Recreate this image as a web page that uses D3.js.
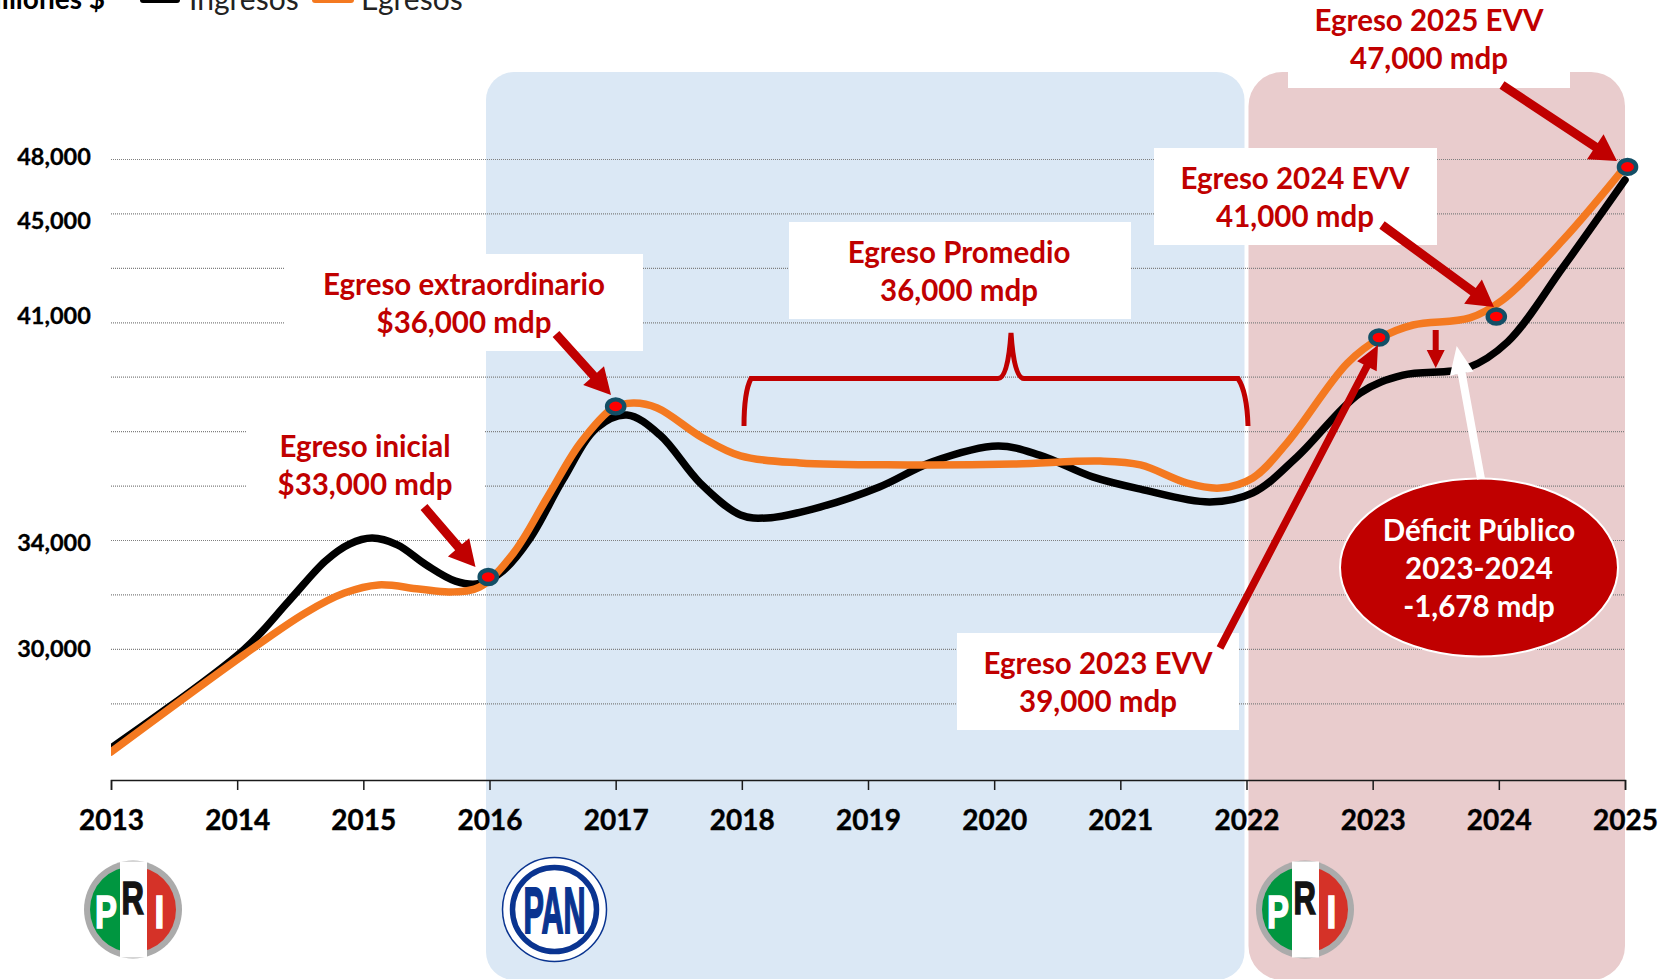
<!DOCTYPE html>
<html>
<head>
<meta charset="utf-8">
<script src="https://cdnjs.cloudflare.com/ajax/libs/d3/7.8.5/d3.min.js"></script>
<style>
  html, body { margin: 0; padding: 0; background: #fff; overflow: hidden; }
  svg { display: block; }
  text { font-family: Lato, "Noto Sans", sans-serif; }
</style>
</head>
<body>
<div id="chart"></div>
<script>
"use strict";

const yearTicks = [2013, 2014, 2015, 2016, 2017, 2018, 2019, 2020, 2021, 2022, 2023, 2024, 2025];
const gridValues = [48000, 46000, 44000, 42000, 40000, 38000, 36000, 34000, 32000, 30000, 28000];

// the printed labels do not sit on a linear scale, so each one keeps where it was placed
const yLabels = ["48,000", "45,000", "41,000", "34,000", "30,000"];
const yLabelAt = [48100, 45730, 42250, 33900, 30000];

const ingresosYears = [2013, 2014.05, 2014.41, 2014.7, 2014.89, 2015.07, 2015.27, 2015.5, 2015.73, 2015.92, 2016.11,
  2016.32, 2016.58, 2016.85, 2017.09, 2017.35, 2017.67, 2017.99, 2018.2, 2018.62, 2019.09, 2019.51, 2020.03,
  2020.36, 2020.78, 2021.16, 2021.71, 2022.05, 2022.4, 2022.9, 2023.24, 2023.75, 2024.07, 2024.51, 2025];
const ingresosValues = [26356, 29960, 31760, 33230, 33850, 34070, 33820, 33080, 32490, 32400, 32880,
  34050, 36200, 38120, 38590, 37860, 36090, 34920, 34810, 35210, 35950, 36870, 37450,
  37120, 36320, 35870, 35400, 35730, 37050, 39400, 40060, 40320, 41280, 44030, 47230];

const egresosYears = [2013, 2014.05, 2014.54, 2014.85, 2015.12, 2015.44, 2015.69, 2015.92, 2016.19, 2016.46,
  2016.72, 2016.98, 2017.14, 2017.33, 2017.69, 2017.99, 2018.46, 2019.31, 2020.15, 2020.84, 2021.16, 2021.53,
  2021.79, 2022.05, 2022.32, 2022.8, 2023.06, 2023.32, 2023.77, 2024.03, 2024.51, 2025];
const egresosValues = [26210, 29770, 31320, 32050, 32350, 32200, 32090, 32270, 33520, 35580,
  37560, 38850, 39030, 38850, 37750, 37090, 36830, 36760, 36790, 36900, 36760, 36090,
  35910, 36280, 37560, 40500, 41420, 41900, 42160, 42820, 45030, 47710];

const markerYears = [2015.99, 2017, 2023.05, 2023.98, 2025.02];
const markerValues = [32640, 38910, 41440, 42210, 47710];

const RED = "#C00000";
const W = 1660, H = 979;

const svg = d3.select("#chart").append("svg").attr("width", W).attr("height", H);

const x = d3.scaleLinear().domain([2013, 2025]).range([111, 1625]);
const y = d3.scaleLinear().domain([34000, 48000]).range([540, 159]);
const axisY = 780;

// party periods
svg.append("rect").attr("x", x(2016) - 3.5).attr("y", 72).attr("width", x(2022) - x(2016) + 1.5)
  .attr("height", 908).attr("rx", 28).attr("fill", "#DBE8F5");
svg.append("rect").attr("x", x(2022) + 2).attr("y", 72).attr("width", x(2025) - x(2022) - 2)
  .attr("height", 908).attr("rx", 34).attr("fill", "#E9CCCD");

// gridlines
const yAxis = svg.append("g")
  .attr("transform", `translate(${x(2013)},0)`)
  .call(d3.axisLeft(y).tickValues(gridValues).tickFormat("").tickSize(-(x(2025) - x(2013))).tickSizeOuter(0));
yAxis.select(".domain").remove();
yAxis.selectAll("line").attr("stroke", "#7f7f7f").attr("stroke-width", 1.2).attr("stroke-dasharray", "1 1");

// x axis
const xAxis = svg.append("g")
  .attr("transform", `translate(0,${axisY})`)
  .call(d3.axisBottom(x).tickValues(yearTicks).tickFormat(d3.format("d")).tickSize(10).tickPadding(20));
xAxis.selectAll("path,line").attr("stroke", "#1a1a1a").attr("stroke-width", 1.5);
xAxis.selectAll("text").attr("fill", "#000").attr("font-size", 28).attr("font-weight", 700)
  .attr("stroke", "#000").attr("stroke-width", 0.4)
  .style("font-family", "Lato");

// y labels
svg.selectAll(".ylab").data(yLabels).enter().append("text")
  .attr("x", 54).attr("y", (d, i) => y(yLabelAt[i]))
  .attr("dy", "0.35em").attr("text-anchor", "middle")
  .attr("font-size", 23.5).attr("font-weight", 700).attr("fill", "#000")
  .attr("stroke", "#000").attr("stroke-width", 0.3)
  .text(d => d);

// white label backgrounds, these hide the gridlines
const boxes = [
  [284, 254, 359, 97], [247, 395, 237, 110], [789, 222, 342, 97],
  [1154, 148, 283, 97], [1288, 0, 282, 88], [957, 633, 282, 97]
];
svg.selectAll(".box").data(boxes).enter().append("rect")
  .attr("x", d => d[0]).attr("y", d => d[1]).attr("width", d => d[2]).attr("height", d => d[3])
  .attr("fill", "#fff");

// lines, cut square at the 2013 edge
svg.append("clipPath").attr("id", "plotClip").append("rect")
  .attr("x", x(2013)).attr("y", 0).attr("width", W - x(2013)).attr("height", H);
const line = d3.line().x(d => x(d[0])).y(d => y(d[1])).curve(d3.curveCatmullRom.alpha(0.5));
const lines = svg.append("g").attr("clip-path", "url(#plotClip)");
lines.append("path").attr("d", line(d3.zip(ingresosYears, ingresosValues)))
  .attr("fill", "none").attr("stroke", "#000").attr("stroke-width", 7.5).attr("stroke-linecap", "round");
lines.append("path").attr("d", line(d3.zip(egresosYears, egresosValues)))
  .attr("fill", "none").attr("stroke", "#F47920").attr("stroke-width", 7.5).attr("stroke-linecap", "round");

// markers
svg.selectAll(".marker").data(d3.zip(markerYears, markerValues)).enter().append("ellipse")
  .attr("cx", d => x(d[0])).attr("cy", d => y(d[1])).attr("rx", 8.6).attr("ry", 7)
  .attr("fill", "#FF0000").attr("stroke", "#134F66").attr("stroke-width", 4.4);

// block arrow from tail to tip
function arrow(x1, y1, x2, y2, shaft, headLen, headW, color) {
  const a = Math.atan2(y2 - y1, x2 - x1);
  const len = Math.hypot(x2 - x1, y2 - y1);
  const pts = [[0, -shaft / 2], [len - headLen, -shaft / 2], [len - headLen, -headW / 2], [len, 0],
    [len - headLen, headW / 2], [len - headLen, shaft / 2], [0, shaft / 2]];
  svg.append("polygon")
    .attr("points", pts.map(p => p.join(",")).join(" "))
    .attr("transform", `translate(${x1},${y1}) rotate(${a * 180 / Math.PI})`)
    .attr("fill", color);
}
arrow(424, 507, 475.5, 567, 9, 26, 28, RED);
arrow(556, 334, 611, 395, 9, 26, 28, RED);
arrow(1502, 85, 1617, 161, 9, 26, 30, RED);
arrow(1382, 225, 1494, 307, 9, 26, 30, RED);
arrow(1220, 648, 1378, 345, 7.5, 24, 22, RED);
arrow(1435.7, 330, 1435.7, 368, 6, 18, 18, RED);

// bracket over the PAN years
const br = d3.path();
br.moveTo(744, 426);
br.quadraticCurveTo(744, 392, 751, 378.5);
br.lineTo(998, 378.5);
br.quadraticCurveTo(1008, 378.5, 1011, 333);
br.quadraticCurveTo(1014, 378.5, 1024, 378.5);
br.lineTo(1238, 378.5);
br.quadraticCurveTo(1247, 392, 1248, 426);
svg.append("path").attr("d", br.toString()).attr("fill", "none").attr("stroke", RED).attr("stroke-width", 5);

// deficit bubble
svg.append("ellipse").attr("cx", 1479).attr("cy", 567.5).attr("rx", 139).attr("ry", 89)
  .attr("fill", RED).attr("stroke", "#fff").attr("stroke-width", 2);
arrow(1481, 479, 1456.7, 346, 8, 28, 24, "#fff");

// annotation text
const notes = [
  ["Egreso extraordinario", 464, 285, RED], ["$36,000 mdp", 464, 323, RED],
  ["Egreso inicial", 365, 447, RED], ["$33,000 mdp", 365, 485, RED],
  ["Egreso Promedio", 959, 253, RED], ["36,000 mdp", 959, 291, RED],
  ["Egreso 2024 EVV", 1295, 179, RED], ["41,000 mdp", 1295, 217, RED],
  ["Egreso 2025 EVV", 1429, 21, RED], ["47,000 mdp", 1429, 59, RED],
  ["Egreso 2023 EVV", 1098, 664, RED], ["39,000 mdp", 1098, 702, RED],
  ["Déficit Público", 1479, 531, "#fff"], ["2023-2024", 1479, 569, "#fff"], ["-1,678 mdp", 1479, 607, "#fff"]
];
svg.selectAll(".note").data(notes).enter().append("text")
  .attr("x", d => d[1]).attr("y", d => d[2]).attr("dy", "0.35em").attr("text-anchor", "middle")
  .attr("font-size", 29.5).attr("font-weight", 700).attr("fill", d => d[3])
  .text(d => d[0]);

// legend, it runs off the top of the picture
svg.append("text").attr("x", 105).attr("y", 9).attr("text-anchor", "end")
  .attr("font-size", 28).attr("font-weight", 700).attr("fill", "#000").text("Millones $");
svg.append("line").attr("x1", 143).attr("x2", 177).attr("y1", 0).attr("y2", 0)
  .attr("stroke", "#000").attr("stroke-width", 6).attr("stroke-linecap", "round");
svg.append("text").attr("x", 189).attr("y", 10).attr("font-size", 30).attr("fill", "#222").text("Ingresos");
svg.append("line").attr("x1", 315).attr("x2", 351).attr("y1", 0).attr("y2", 0)
  .attr("stroke", "#F47920").attr("stroke-width", 6).attr("stroke-linecap", "round");
svg.append("text").attr("x", 361).attr("y", 10).attr("font-size", 30).attr("fill", "#222").text("Egresos");

// party logos
function priLogo(cx, cy) {
  const g = svg.append("g").attr("transform", `translate(${cx},${cy})`);
  const clipId = "pri" + cx;
  g.append("clipPath").attr("id", clipId).append("circle").attr("r", 43);
  g.append("circle").attr("r", 49).attr("fill", "#ABABAB");
  const inner = g.append("g").attr("clip-path", `url(#${clipId})`);
  inner.append("rect").attr("x", -43).attr("y", -43).attr("width", 43).attr("height", 86).attr("fill", "#009640");
  inner.append("rect").attr("x", 0).attr("y", -43).attr("width", 43).attr("height", 86).attr("fill", "#D53228");
  g.append("rect").attr("x", -13).attr("y", -48).attr("width", 27).attr("height", 96).attr("fill", "#fff");
  // squeezed with a scale so the letters stay narrow
  const letters = [["P", -38, 18, "#fff", 0.7], ["R", -11.5, 4.5, "#141414", 0.66], ["I", 21.5, 18, "#fff", 0.75]];
  g.selectAll("text").data(letters).enter().append("text")
    .attr("transform", d => `translate(${d[1]},${d[2]}) scale(${d[4]},1)`)
    .attr("font-size", 47).attr("font-weight", 700).attr("fill", d => d[3])
    .attr("stroke", d => d[3]).attr("stroke-width", 1.6)
    .style("font-family", "'Liberation Sans'")
    .text(d => d[0]);
}
priLogo(133, 909.5);
priLogo(1305, 909.5);

const pan = svg.append("g").attr("transform", "translate(554.5,909.5)");
pan.append("circle").attr("r", 52).attr("fill", "#fff").attr("stroke", "#0A3490").attr("stroke-width", 1.5);
pan.append("circle").attr("r", 42).attr("fill", "#fff").attr("stroke", "#0A3490").attr("stroke-width", 5.5);
pan.append("text").attr("transform", "translate(0,23.5) scale(0.47,1)").attr("text-anchor", "middle")
  .attr("font-size", 65).attr("font-weight", 700).attr("fill", "#0A3490")
  .attr("stroke", "#0A3490").attr("stroke-width", 2)
  .style("font-family", "'Liberation Sans'")
  .text("PAN");
</script>
</body>
</html>
